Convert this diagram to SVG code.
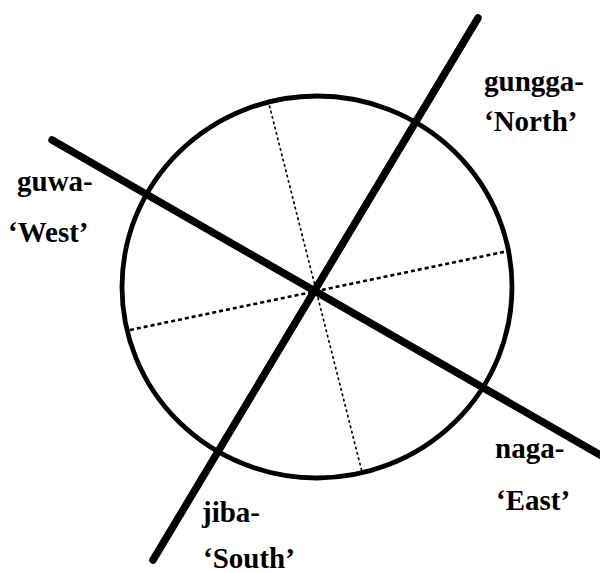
<svg xmlns="http://www.w3.org/2000/svg" width="600" height="573" viewBox="0 0 600 573">
<style>
.lbl{font-family:"Liberation Serif","Times New Roman",serif;font-weight:bold;font-size:29px;fill:#000}
.thick{stroke:#000;stroke-width:7.5;stroke-linecap:round;fill:none}
.dot1{stroke:#000;stroke-width:1.6;stroke-dasharray:3 2.5;fill:none}
.dot2{stroke:#000;stroke-width:2.6;stroke-dasharray:4 3;fill:none}
</style>
<rect width="600" height="573" fill="#fff"/>
<g id="circle">
<ellipse cx="317" cy="287" rx="195" ry="191" fill="none" stroke="#000" stroke-width="4.8"/>
</g>
<g id="connectors">
<line class="dot1" x1="268" y1="100" x2="362" y2="472"/>
<line class="dot2" x1="130" y1="330" x2="513" y2="250"/>
<line class="thick" x1="478" y1="18" x2="153" y2="560"/>
<line class="thick" x1="52" y1="140" x2="602" y2="456"/>
</g>
<g id="north"><text class="lbl" x="484" y="91">gungga-</text><text class="lbl" x="484" y="131">‘North’</text></g>
<g id="west"><text class="lbl" x="17" y="191">guwa-</text><text class="lbl" x="8" y="242">‘West’</text></g>
<g id="east"><text class="lbl" x="495" y="458">naga-</text><text class="lbl" x="496" y="510">‘East’</text></g>
<g id="south"><text class="lbl" x="202" y="522">jiba-</text><text class="lbl" x="203" y="568">‘South’</text></g>
</svg>
